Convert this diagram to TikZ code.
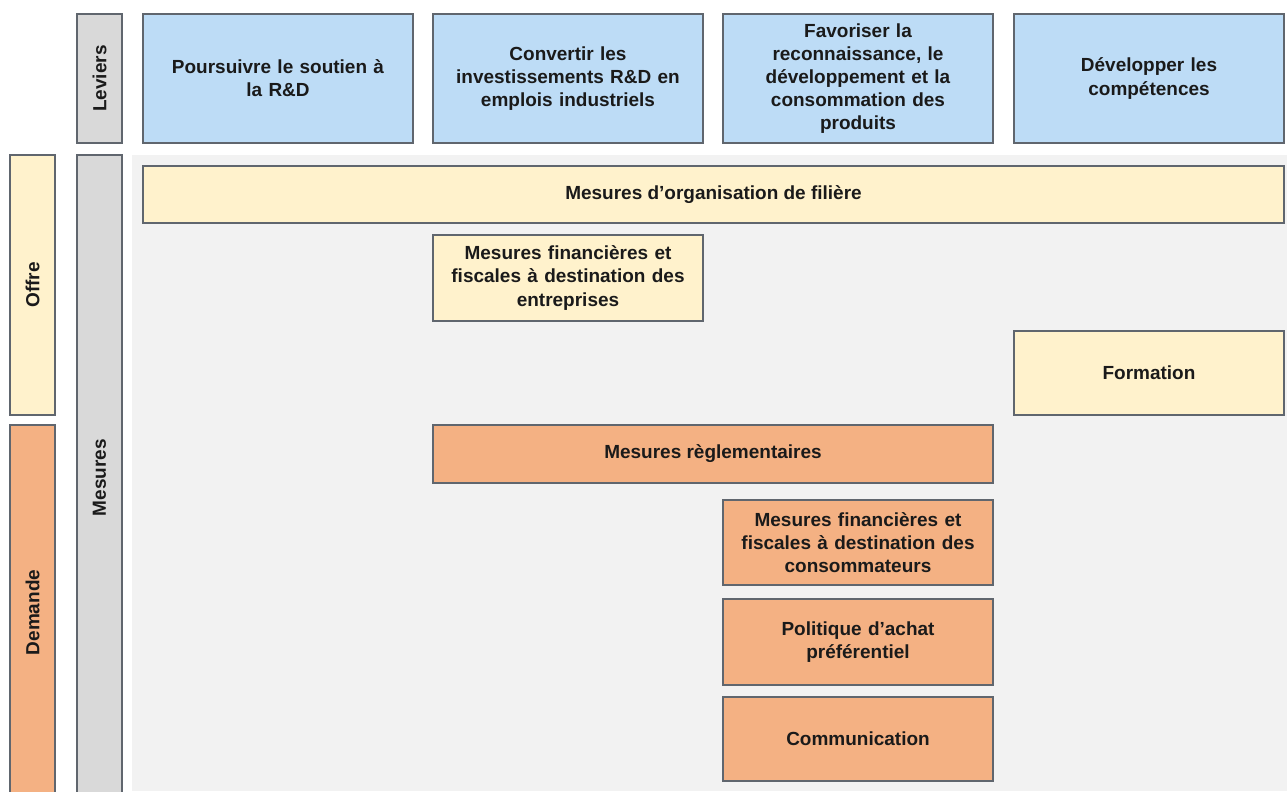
\documentclass[tikz,border=0pt]{standalone}
\usepackage{fontspec}
\setmainfont{Liberation Sans}
\usepackage{xcolor}
\usetikzlibrary{positioning}
\definecolor{levier}{RGB}{189,220,246}
\definecolor{offre}{RGB}{255,242,204}
\definecolor{demande}{RGB}{244,177,131}
\definecolor{entete}{RGB}{217,217,217}
\definecolor{fond}{RGB}{242,242,242}
\definecolor{trait}{RGB}{96,102,110}
\definecolor{texte}{RGB}{26,26,26}

\begin{document}
\begin{tikzpicture}[x=0.025cm, y=-0.025cm,
            box/.style={rectangle, draw=trait, line width=1pt, fill=#1, text=texte, align=center,
                        font=\fontsize{13.5}{16.5}\selectfont\bfseries, inner sep=2pt},
            cell/.style={box=#1, minimum width=6.75cm, text width=6.6cm},
            side/.style={box=#1, minimum width=1.125cm}]

            % Frame
            \clip (0,0) rectangle (1287,791);
            \fill[white] (0,0) rectangle (1287,791);
            \fill[fond] (132,155) rectangle (1287,791);

            % Headers
            \node[side=entete, minimum height=3.225cm] (leviers) at (99.5,78.5) {\rotatebox{90}{Leviers}};
            \node[side=entete, minimum height=16.125cm] (mesures) at (99.5,477.5) {\rotatebox{90}{Mesures}};
            \node[side=offre, minimum height=6.5cm] (offre) at (32.5,285) {\rotatebox{90}{Offre}};
            \node[side=demande, minimum height=9.375cm] (demande) at (32.5,612.5) {\rotatebox{90}{Demande}};

            % Leviers
            \node[cell=levier, minimum height=3.225cm] (rd) at (278,78.5) {Poursuivre le soutien à\\la R\&D};
            \node[cell=levier, minimum height=3.225cm] (emplois) at (568,78.5) {Convertir les\\investissements R\&D en\\emplois industriels};
            \node[cell=levier, minimum height=3.225cm] (produits) at (858,78.5) {Favoriser la\\reconnaissance, le\\développement et la\\consommation des\\produits};
            \node[cell=levier, minimum height=3.225cm] (competences) at (1149,78.5) {Développer les\\compétences};

            % Mesures offre
            \node[box=offre, minimum width=28.525cm, minimum height=1.425cm] (filiere) at (713.5,194.5) {Mesures d’organisation de filière};
            \node[cell=offre, minimum height=2.15cm] (finent) at (568,278) {Mesures financières et\\fiscales à destination des\\entreprises};
            \node[cell=offre, minimum height=2.1cm] (formation) at (1149,373) {Formation};

            % Mesures demande
            \node[box=demande, minimum width=14cm, minimum height=1.45cm] (regl) at (713,454) {Mesures règlementaires};
            \node[cell=demande, minimum height=2.125cm] (fincons) at (858,542.5) {Mesures financières et\\fiscales à destination des\\consommateurs};
            \node[cell=demande, minimum height=2.15cm] (achat) at (858,642) {Politique d’achat\\préférentiel};
            \node[cell=demande, minimum height=2.1cm] (comm) at (858,739) {Communication};
        \end{tikzpicture}
\end{document}
